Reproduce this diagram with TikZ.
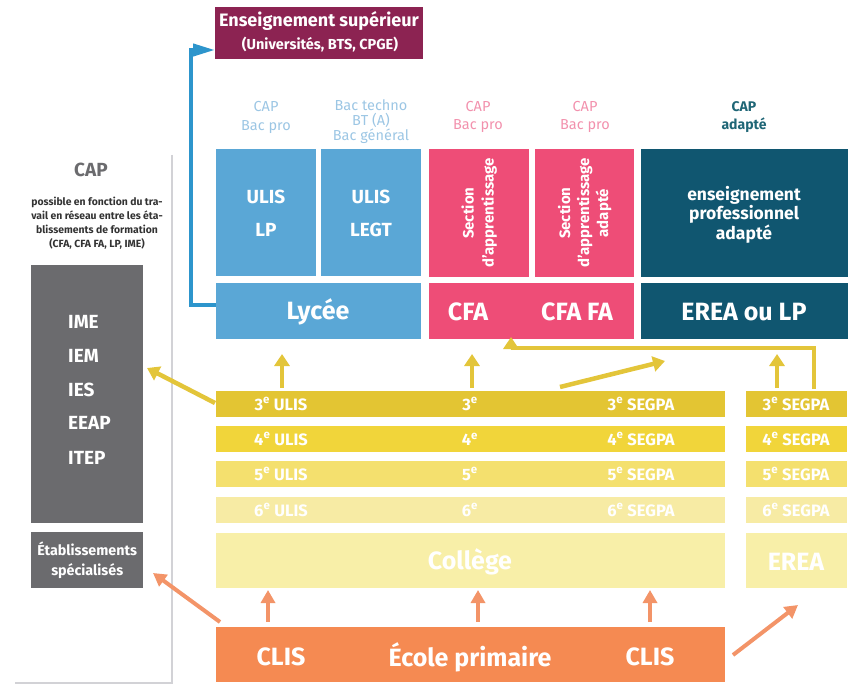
\documentclass[tikz,border=0pt]{standalone}
\usepackage{fontspec}
\setmainfont{Fira Sans}
\usetikzlibrary{arrows.meta,calc}
\definecolor{supcol}{HTML}{8C2352}
\definecolor{lyccol}{HTML}{5AA7D6}
\definecolor{lycline}{HTML}{2D95CC}
\definecolor{lyctxt}{HTML}{9CC6E4}
\definecolor{cfacol}{HTML}{EE4D77}
\definecolor{cfatxt}{HTML}{F291AD}
\definecolor{ereacol}{HTML}{105670}
\definecolor{ereatxt}{HTML}{1F6676}
\definecolor{greycol}{HTML}{6B6B6E}
\definecolor{panelcol}{HTML}{D2D2D6}
\definecolor{jauneA}{HTML}{E3C533}
\definecolor{jauneB}{HTML}{F1D53A}
\definecolor{jauneC}{HTML}{F4E06E}
\definecolor{jauneD}{HTML}{F7EBA4}
\definecolor{collcol}{HTML}{F8EFA8}
\definecolor{ecolecol}{HTML}{F58A52}
\definecolor{orarrow}{HTML}{F39468}
\definecolor{yarrow}{HTML}{E3C53A}
\tikzstyle{bloc}=[draw=none,inner sep=0pt,anchor=north west]
\tikzstyle{btxt}=[text=white,font=\bfseries,inner sep=0pt,align=center]
\tikzstyle{toptxt}=[inner sep=0pt,align=center,font=\fontsize{14.5}{15}\selectfont]
\tikzstyle{bigtxt}=[btxt,font=\bfseries\fontsize{25}{27}\selectfont]
\tikzstyle{rowtxt}=[btxt,font=\bfseries\fontsize{16.5}{18}\selectfont]
\tikzstyle{yarr}=[draw=yarrow,line width=4.5pt,-{Triangle[width=15pt,length=12pt]}]
\tikzstyle{oarr}=[draw=orarrow,line width=4pt,-{Triangle[width=14pt,length=13pt]}]
\tikzstyle{barr}=[draw=lycline,line width=4pt,-{Triangle[width=12pt,length=22pt]}]
\newcommand{\ee}[1]{#1\textsuperscript{e}}

\begin{document}
\begin{tikzpicture}[x=1pt,y=-1pt]
\useasboundingbox (0,0) rectangle (856,684);

% panel
\draw[panelcol,line width=1.6pt] (172,155) -- (172,683) -- (15,683);

% boxes
\foreach \pos/\w/\h/\name/\col in {
  {(215,7)/208/52/sup/supcol},
  {(216,149)/100/127/ulislp/lyccol},{(321,149)/100/127/ulislegt/lyccol},
  {(429,149)/100/128/sectapp/cfacol},{(535,149)/99/128/sectada/cfacol},
  {(641,149)/207/128/epa/ereacol},
  {(216,283)/205/56/lycee/lyccol},{(429,283)/205/56/cfa/cfacol},{(641,283)/207/56/erea/ereacol},
  {(31,265)/112/258/ime/greycol},{(31,532)/112/56/etab/greycol},
  {(216,391)/509/26/row3/jauneA},{(746,391)/101/26/row3r/jauneA},
  {(216,426)/509/26/row4/jauneB},{(746,426)/101/26/row4r/jauneB},
  {(216,461)/509/26/row5/jauneC},{(746,461)/101/26/row5r/jauneC},
  {(216,497)/509/26/row6/jauneD},{(746,497)/101/26/row6r/jauneD},
  {(216,533)/509/55/college/collcol},{(746,533)/101/55/ereac/collcol},
  {(216,627)/509/55/ecole/ecolecol}}
    \node[bloc,fill=\col,minimum width=\w pt,minimum height=\h pt] (\name) at \pos {};

% Label
\node[btxt,font=\bfseries\fontsize{18}{20}\selectfont] (supt) at (319,21) {Enseignement supérieur};
\node[btxt,font=\bfseries\fontsize{14.5}{16}\selectfont] (supu) at (320,45) {(Universités, BTS, CPGE)};

\node[toptxt,text=lyctxt] (capa) at (266,117) {CAP\\[4pt]Bac pro};
\node[toptxt,text=lyctxt] (capb) at (371,122) {Bac techno\\BT (A)\\Bac général};
\node[toptxt,text=cfatxt] (capc) at (478,117) {CAP\\[3pt]Bac pro};
\node[toptxt,text=cfatxt] (capd) at (585,117) {CAP\\[3pt]Bac pro};
\node[toptxt,text=ereatxt,font=\bfseries\fontsize{14}{15}\selectfont] (cape) at (744,117) {CAP\\[3pt]adapté};

\foreach \x/\a/\b/\name in {266/ULIS/LP/ulisa,371/ULIS/LEGT/ulisb}{
  \node[btxt,font=\bfseries\fontsize{19}{20}\selectfont] (\name1) at (\x,197) {\a};
  \node[btxt,font=\bfseries\fontsize{19}{20}\selectfont] (\name2) at (\x,230) {\b};
}
\node[btxt,rotate=90,font=\bfseries\fontsize{15}{20}\selectfont] (sectappt) at (sectapp.center) {Section\\d'apprentissage};
\node[btxt,rotate=90,font=\bfseries\fontsize{15}{19}\selectfont] (sectadat) at (sectada.center) {Section\\d'apprentissage\\adapté};
\node[btxt,font=\bfseries\fontsize{17.5}{17}\selectfont] (epat) at (744,215) {enseignement\\professionnel\\adapté};

\node[bigtxt] (lyceet) at (318,312) {Lycée};
\node[bigtxt] (cfat) at (468,312) {CFA};
\node[bigtxt] (cfafat) at (577,312) {CFA FA};
\node[bigtxt] (ereat) at (744,312) {EREA ou LP};

%left
\node[inner sep=0pt,text=greycol,font=\fontsize{19}{22}\selectfont\bfseries] (capl) at (91,170) {CAP};
\node[inner sep=0pt,align=center,text=black!80,font=\bfseries\fontsize{10.4}{14}\selectfont] (capp) at (97,223)
  {possible en fonction du tra-\\vail en réseau entre les éta-\\blissements de formation\\(CFA, CFA FA, LP, IME)};
\foreach \y/\t in {322/IME,356/IEM,390/IES,423/EEAP,458/ITEP}
  \node[btxt,anchor=west,font=\bfseries\fontsize{19}{20}\selectfont] (\t) at (68,\y) {\t};
\node[btxt,font=\bfseries\fontsize{14.3}{20}\selectfont] (etabt) at (etab.center) {Établissements\\spécialisés};

%rows
\foreach \r/\y in {3/404,4/439,5/474,6/510}{
  \node[rowtxt] (ulis\r) at (281,\y) {\ee{\r} ULIS};
  \node[rowtxt] (niv\r) at (470,\y) {\ee{\r}};
  \node[rowtxt] (segpa\r) at (641,\y) {\ee{\r} SEGPA};
  \node[rowtxt] (segpar\r) at (796,\y) {\ee{\r} SEGPA};
}
\node[bigtxt] (collt) at (470,562) {Collège};
\node[bigtxt] (ereact) at (796,562) {EREA};
\node[bigtxt] (clisa) at (281,657) {CLIS};
\node[bigtxt] (ecolet) at (470,657) {École primaire};
\node[bigtxt] (clisb) at (650,657) {CLIS};

% arrows
\coordinate (lycout) at (216,305);
\coordinate (supin) at (215,50);
\draw[barr] (lycout) -- ++(-25,0) |- (supin);

\coordinate (r3a) at (282,388);   \coordinate (lyin) at (282,354);
\coordinate (r3b) at (472,388);   \coordinate (cfin) at (472,354);
\coordinate (r3c) at (560,387);   \coordinate (mid) at (665,361);
\coordinate (r3d) at (777,388);   \coordinate (erin) at (777,354);
\coordinate (r3e) at (814,389);   \coordinate (cfb) at (511,337);
\coordinate (r3f) at (215,403);   \coordinate (imein) at (147,368);
\draw[yarr] (r3a) -- (lyin);
\draw[yarr] (r3b) -- (cfin);
\draw[yarr] (r3c) -- (mid);
\draw[yarr] (r3d) -- (erin);
\draw[yarr] (r3e) |- (511,348) -- (cfb);
\draw[yarr] (r3f) -- (imein);

\coordinate (e1) at (268,622); \coordinate (c1) at (268,590);
\coordinate (e2) at (478,622); \coordinate (c2) at (478,590);
\coordinate (e3) at (650,622); \coordinate (c3) at (650,590);
\coordinate (e4) at (220,622); \coordinate (etin) at (153,573);
\coordinate (e5) at (733,655); \coordinate (ereain) at (798,605);
\foreach \s/\d in {e1/c1,e2/c2,e3/c3,e4/etin,e5/ereain}
  \draw[oarr] (\s) -- (\d);

\end{tikzpicture}
\end{document}
